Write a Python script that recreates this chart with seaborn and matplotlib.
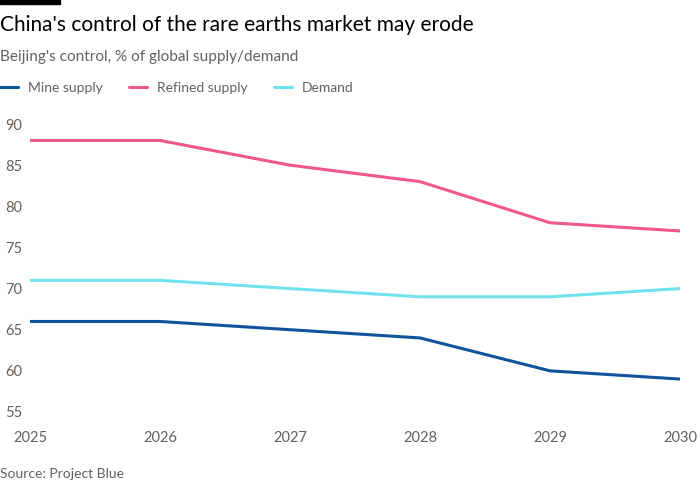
import matplotlib
matplotlib.use("Agg")
import matplotlib.pyplot as plt
import seaborn as sns
import pandas as pd
from matplotlib.lines import Line2D
from matplotlib.patches import Rectangle

years = [2025, 2026, 2027, 2028, 2029, 2030]
mine_supply = [66, 66, 65, 64, 60, 59]
refined_supply = [88, 88, 85, 83, 78, 77]
demand = [71, 71, 70, 69, 69, 70]
series_names = ["Mine supply", "Refined supply", "Demand"]
y_ticks = [55, 60, 65, 70, 75, 80, 85, 90]

colors = {"Mine supply": "#0f5499", "Refined supply": "#f0578c", "Demand": "#6fe2ee"}

df = pd.DataFrame({
    "year": years * 3,
    "value": mine_supply + refined_supply + demand,
    "series": [series_names[0]] * 6 + [series_names[1]] * 6 + [series_names[2]] * 6,
})

sns.set_theme(style="white")
plt.rcParams["font.family"] = ["Lato", "DejaVu Sans"]

fig = plt.figure(figsize=(7, 5), dpi=100)
fig.patch.set_facecolor("white")
ax = fig.add_axes([30 / 700, 1 - 420.2 / 500, 650 / 700, 304.4 / 500])

sns.lineplot(data=df, x="year", y="value", hue="series", hue_order=series_names,
             palette=colors, linewidth=2.2, legend=False, ax=ax)

ax.set_xlim(2025, 2030)
ax.set_ylim(54, 91)
ax.set_yticks(y_ticks)
ax.set_xticks(years)
ax.set_xticklabels([str(y) for y in years])
ax.set_xlabel("")
ax.set_ylabel("")
for s in ax.spines.values():
    s.set_visible(False)
ax.tick_params(axis="y", length=0, pad=18, labelsize=10.5, labelcolor="#66605c")
ax.tick_params(axis="x", length=0, pad=8, labelsize=10.5, labelcolor="#66605c")
for lbl in ax.get_yticklabels():
    lbl.set_horizontalalignment("left")

# Header
fig.add_artist(Rectangle((0, 1 - 4 / 500), 60 / 700, 4 / 500, transform=fig.transFigure,
                         color="#000000", clip_on=False))
fig.text(0, 1 - 25 / 500, "China's control of the rare earths market may erode",
         fontsize=15, color="#000000", va="center", ha="left")
fig.text(0, 1 - 57 / 500, "Beijing's control, % of global supply/demand",
         fontsize=11.1, color="#66605c", va="center", ha="left")

handles = [Line2D([0], [0], color=colors[n], linewidth=2.2) for n in series_names]
fig.legend(handles, series_names, loc="center left", bbox_to_anchor=(0, 1 - 88 / 500),
           ncol=3, frameon=False, fontsize=10, handlelength=1.3, handletextpad=0.7,
           columnspacing=1.9, borderpad=0, borderaxespad=0, labelcolor="#66605c")

fig.text(0, 1 - 474 / 500, "Source: Project Blue", fontsize=10, color="#66605c",
         va="center", ha="left")

fig.savefig("out.png", dpi=100, facecolor="white")
